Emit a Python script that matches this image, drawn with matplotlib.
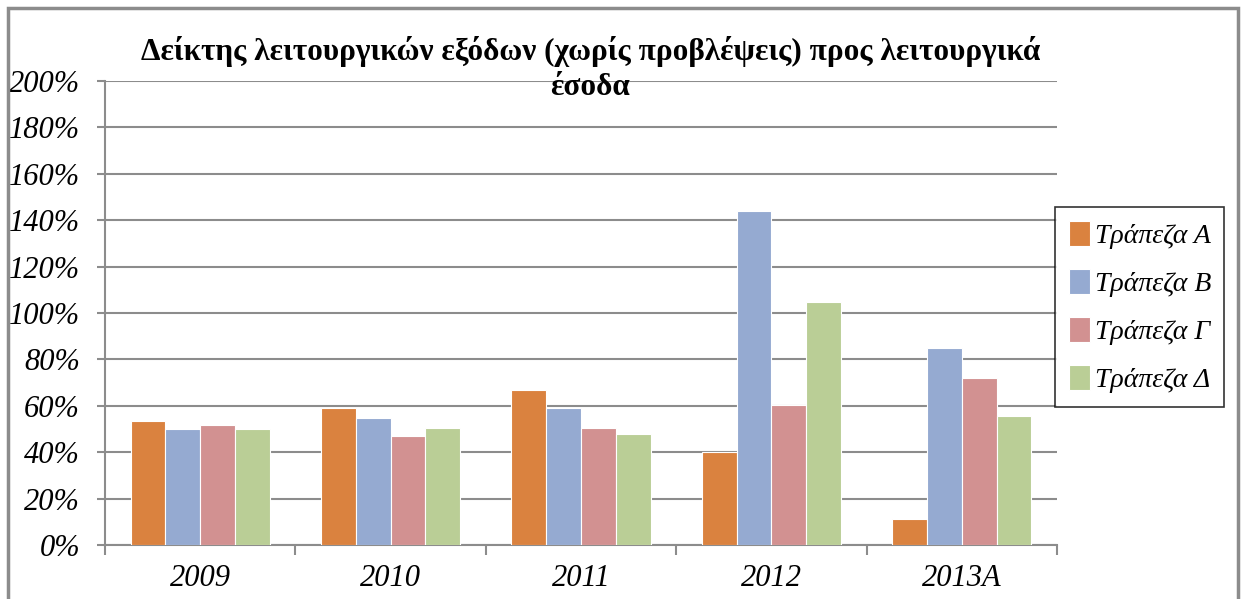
import numpy as np
import matplotlib
matplotlib.use("Agg")
import matplotlib.pyplot as plt
from matplotlib.patches import Rectangle
from matplotlib.ticker import FixedLocator, PercentFormatter

years = ["2009", "2010", "2011", "2012", "2013Α"]
banks = ["Τράπεζα Α", "Τράπεζα Β", "Τράπεζα Γ", "Τράπεζα Δ"]
bank_a = [53.6, 59.1, 67.0, 40.0, 11.1]
bank_b = [49.9, 54.9, 59.1, 144.1, 84.7]
bank_c = [51.7, 46.9, 50.6, 60.2, 71.9]
bank_d = [49.9, 50.6, 48.0, 104.6, 55.6]
series = [bank_a, bank_b, bank_c, bank_d]

colors = ["#DA823F", "#95AAD1", "#D29191", "#BACE96"]

plt.rcParams["font.family"] = ["Liberation Serif", "DejaVu Serif"]

fig = plt.figure(figsize=(12.43, 5.99), dpi=100)
ax = fig.add_axes([0.0845, 0.0902, 0.7658, 0.7746])

# outer chart frame
fig.patches.append(Rectangle((0.0068, -0.01), 0.989, 0.996, transform=fig.transFigure,
                             fill=False, edgecolor="#8c8c8c", linewidth=2.5))

x = np.arange(len(years))
w = 0.183
for i, (vals, name) in enumerate(zip(series, banks)):
    ax.bar(x + (i - 1.5) * w, vals, width=w, color=colors[i], edgecolor="white",
           linewidth=0.8, label=name, zorder=3)

ax.set_xlim(-0.5, len(years) - 0.5)
ax.set_ylim(0, 200)
ax.yaxis.set_major_locator(FixedLocator(np.arange(0, 201, 20)))
ax.yaxis.set_major_formatter(PercentFormatter(decimals=0))
ax.grid(axis="y", color="#8c8c8c", linewidth=1.5, zorder=0)

ax.set_xticks(x)
ax.set_xticklabels(years)
ax.xaxis.set_minor_locator(FixedLocator(np.arange(-0.5, len(years), 1.0)))
ax.tick_params(axis="x", which="major", length=0, pad=14)
ax.tick_params(axis="x", which="minor", length=7, color="#8c8c8c", width=1.5)
ax.tick_params(axis="y", length=6, color="#8c8c8c", width=1.5, pad=12)

for lab in ax.get_xticklabels() + ax.get_yticklabels():
    lab.set_fontsize(22)
    lab.set_fontstyle("italic")

for side in ["top", "right"]:
    ax.spines[side].set_visible(False)
for side in ["left", "bottom"]:
    ax.spines[side].set_color("#8c8c8c")
    ax.spines[side].set_linewidth(1.5)

fig.text(0.475, 0.885, "Δείκτης λειτουργικών εξόδων (χωρίς προβλέψεις) προς λειτουργικά\nέσοδα",
         ha="center", va="center", fontsize=22.5, fontweight="bold", linespacing=1.3)

leg = ax.legend(loc="upper left", bbox_to_anchor=(0.8487, 0.3189, 0.136, 0.3356),
                bbox_transform=fig.transFigure, mode="expand", frameon=True,
                fancybox=False, edgecolor="black", handlelength=0.75, handleheight=1.0,
                handletextpad=0.2, labelspacing=0.72, borderpad=0.5, borderaxespad=0,
                prop={"size": 20, "style": "italic"})
leg.get_frame().set_linewidth(1.2)

plt.savefig("out.png", dpi=100)
plt.close()
